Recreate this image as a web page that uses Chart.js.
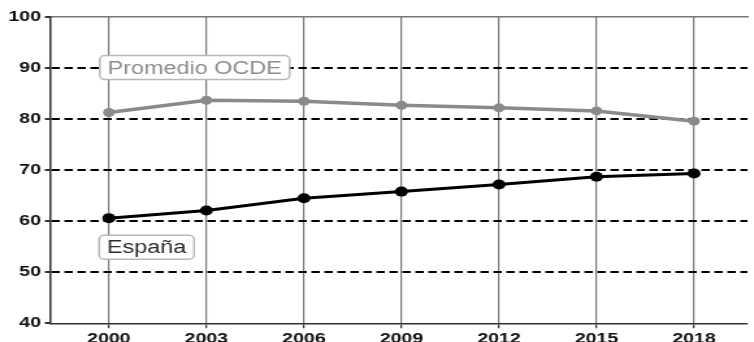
<!DOCTYPE html>
<html>
<head>
<meta charset="utf-8">
<script src="https://cdn.jsdelivr.net/npm/chart.js@4/dist/chart.umd.min.js"></script>
<style>
  html, body { margin: 0; padding: 0; background: #fff; overflow: hidden; }
  /* the source picture is stretched sideways, so draw narrow and widen it */
  #wrap { width: 580px; height: 342px; transform: scaleX(1.3); transform-origin: 0 0; }
</style>
</head>
<body>
<div id="wrap"><canvas id="chart" width="580" height="342"></canvas></div>
<script>
const years = [2000, 2003, 2006, 2009, 2012, 2015, 2018];
const ocde = [81.3, 83.7, 83.5, 82.7, 82.2, 81.6, 79.6];
const espana = [60.6, 62.1, 64.5, 65.8, 67.2, 68.7, 69.35];
const yTicks = [40, 50, 60, 70, 80, 90, 100];

// series name boxes, placed in data units
const boxLabels = ["Promedio OCDE", "España"];
const boxYears = [2002.64, 2001.16];
const boxValues = [90.1, 54.9];
const boxColors = ["#8c8c8c", "#2a2a2a"];

const FONT = "'Liberation Sans', Arial, sans-serif";

function toPoints(vals) {
  return years.map((y, i) => ({ x: y, y: vals[i] }));
}

const labelBoxes = {
  id: "labelBoxes",
  afterDatasetsDraw(chart) {
    const { ctx, scales } = chart;
    ctx.save();
    ctx.font = "18px " + FONT;
    ctx.textAlign = "center";
    ctx.textBaseline = "middle";
    boxLabels.forEach((txt, i) => {
      const cx = scales.x.getPixelForValue(boxYears[i]);
      const cy = scales.y.getPixelForValue(boxValues[i]);
      const w = ctx.measureText(txt).width + 12;
      const h = 24;
      ctx.beginPath();
      ctx.roundRect(cx - w / 2, cy - h / 2, w, h, 4);
      ctx.fillStyle = "#fff";
      ctx.fill();
      ctx.lineWidth = 1.5;
      ctx.strokeStyle = "#b8b8b8";
      ctx.stroke();
      ctx.fillStyle = boxColors[i];
      ctx.fillText(txt, cx, cy + 1);
    });
    ctx.restore();
  }
};

new Chart(document.getElementById("chart"), {
  type: "line",
  data: {
    datasets: [
      { label: "Promedio OCDE", data: toPoints(ocde), borderColor: "#8a8a8a", backgroundColor: "#8a8a8a",
        borderWidth: 3.5, pointRadius: 4.5, pointBorderWidth: 0, tension: 0 },
      { label: "España", data: toPoints(espana), borderColor: "#000", backgroundColor: "#000",
        borderWidth: 3, pointRadius: 5, pointBorderWidth: 0, tension: 0 }
    ]
  },
  options: {
    responsive: false,
    animation: false,
    devicePixelRatio: 1,
    layout: { padding: { top: 17, right: 0, left: 0, bottom: 0 } },
    plugins: { legend: { display: false }, tooltip: { enabled: false } },
    scales: {
      x: {
        type: "linear", position: "bottom", min: 1998.19, max: 2019.645,
        afterBuildTicks: s => { s.ticks = years.map(v => ({ value: v })); },
        afterFit: s => { s.height = 18.7; },
        ticks: { color: "#111", font: { family: FONT, size: 15, weight: "bold" }, padding: 2,
                 callback: v => String(v), maxRotation: 0, autoSkip: false },
        grid: { color: "#7a7a7a", lineWidth: 1.2, tickLength: 5, tickColor: "#333" },
        border: { color: "#333", width: 1.5 }
      },
      xTop: {
        type: "linear", position: "top", min: 1998.19, max: 2019.645,
        afterFit: s => { s.height = 0; },
        ticks: { display: false },
        grid: { display: false },
        border: { color: "#777", width: 1.5 }
      },
      y: {
        min: 40, max: 100,
        afterBuildTicks: s => { s.ticks = yTicks.map(v => ({ value: v })); },
        afterFit: s => { s.width = 38.5; },
        ticks: { color: "#111", font: { family: FONT, size: 15, weight: "bold" }, padding: 3 },
        grid: {
          color: c => (c.tick && (c.tick.value === 40 || c.tick.value === 100)) ? "rgba(0,0,0,0)" : "#000",
          lineWidth: 2, tickLength: 4, tickColor: "#333"
        },
        border: { color: "#333", width: 1.5, dash: [6.5, 3.5] }
      }
    }
  },
  plugins: [labelBoxes]
});
</script>
</body>
</html>
